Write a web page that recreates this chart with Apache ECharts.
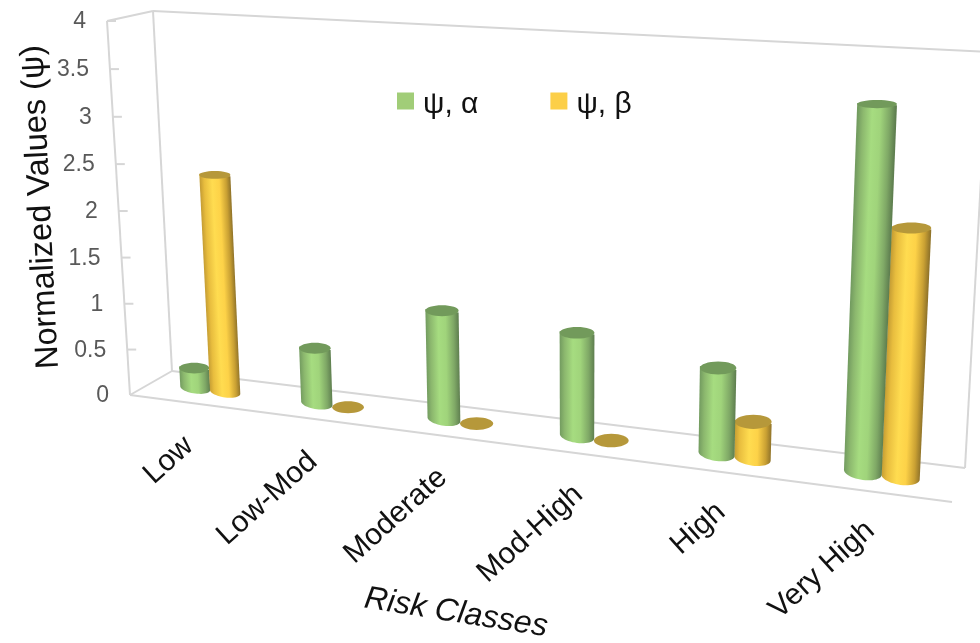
<!DOCTYPE html>
<html>
<head>
<meta charset="utf-8">
<title>Risk Classes</title>
<script src="https://cdn.jsdelivr.net/npm/echarts@6/dist/echarts.min.js"></script>
<style>
  html, body { margin: 0; padding: 0; background: #fff; }
  #chart { width: 980px; height: 643px; }
</style>
</head>
<body>
<div id="chart"></div>
<script>
const categories = ['Low', 'Low-Mod', 'Moderate', 'Mod-High', 'High', 'Very High']
const alphaValues = [0.22, 0.59, 1.13, 1.05, 0.85, 3.48]
const betaValues = [2.33, 0, 0, 0, 0.36, 2.36]
const yTicks = [0, 0.5, 1, 1.5, 2, 2.5, 3, 3.5, 4]

const FONT = '"Liberation Sans", Arial, sans-serif'
const GRID = { left: 151, top: 20, width: 807, height: 380 }

// the picture is a tilted 3D box, so flat grid pixels get warped onto it
const FLOOR_Y0 = 382.5
const FLOOR_SLOPE = 0.126
const H_LEFT = 372
const H_GROW = 60 / 807
const U_WARP = 1.15
const V_WARP = 1.033
const VANISH_X = 577
const LEAN = 0.000135

const warpU = (u) => u / (u + U_WARP * (1 - u))
const warpV = (v) => v / (v + V_WARP * (1 - v))

const project = (u, v) => {
  const x = GRID.left + GRID.width * warpU(u)
  const h = (H_LEFT + (x - GRID.left) * H_GROW) * warpV(v)
  const floorY = FLOOR_Y0 + FLOOR_SLOPE * (x - GRID.left)
  return [x + (x - VANISH_X) * LEAN * h, floorY - h]
}

const toUnit = (pt) => [
  (pt[0] - GRID.left) / GRID.width,
  (GRID.top + GRID.height - pt[1]) / GRID.height,
]

// ellipses open up towards the bottom of the picture
const flatness = (y) => 0.21 + (y - 103) * 0.00055

const GREEN_STOPS = [
  { offset: 0, color: '#739c60' },
  { offset: 0.14, color: '#8cb86e' },
  { offset: 0.38, color: '#a6dc80' },
  { offset: 0.6, color: '#a0d47b' },
  { offset: 0.84, color: '#7fa866' },
  { offset: 1, color: '#5f7f50' },
]
const YELLOW_STOPS = [
  { offset: 0, color: '#c69e34' },
  { offset: 0.14, color: '#e8bd3e' },
  { offset: 0.4, color: '#ffdc50' },
  { offset: 0.63, color: '#fdd248' },
  { offset: 0.86, color: '#c9a033' },
  { offset: 1, color: '#92752a' },
]

const makeCylinder = (offsetRatio, stops, topColor, frontFrom) => (params, api) => {
  const idx = api.value(0)
  const band = api.size([1, 0])[0] / GRID.width
  const [uC, vTop] = toUnit(api.coord([idx, api.value(1)]))
  const u = uC + band * offsetRatio
  const r = band * 0.126

  const baseL = project(u - r, 0)
  const baseR = project(u + r, 0)
  const topL = project(u - r, vTop)
  const topR = project(u + r, vTop)

  const baseC = [(baseL[0] + baseR[0]) / 2, (baseL[1] + baseR[1]) / 2]
  const topC = [(topL[0] + topR[0]) / 2, (topL[1] + topR[1]) / 2]
  const topRx = (topR[0] - topL[0]) / 2
  const baseRx = (baseR[0] - baseL[0]) / 2
  const topRy = topRx * flatness(topC[1])
  const baseRy = baseRx * flatness(baseC[1])

  const z2 = frontFrom(idx) ? 10 : 5
  const children = []

  if (api.value(1) > 0) {
    const pts = [topL, topR, baseR]
    for (let k = 1; k < 24; k++) {
      const a = (Math.PI * k) / 24
      pts.push([
        baseC[0] + baseRx * Math.cos(a),
        baseC[1] + (baseR[1] - baseC[1]) * Math.cos(a) + baseRy * Math.sin(a),
      ])
    }
    pts.push(baseL)

    // highlight bands run along the leaning axis of the bar
    const ax = topC[0] - baseC[0]
    const ay = topC[1] - baseC[1]
    const len = Math.hypot(ax, ay) || 1
    const px = (-ay / len) * baseRx
    const py = (ax / len) * baseRx
    children.push({
      type: 'polygon',
      z2,
      shape: { points: pts },
      style: {
        fill: {
          type: 'linear',
          global: true,
          x: baseC[0] - px,
          y: baseC[1] - py,
          x2: baseC[0] + px,
          y2: baseC[1] + py,
          colorStops: stops,
        },
      },
    })
  }

  children.push({
    type: 'ellipse',
    z2: z2 + 1,
    shape: { cx: topC[0], cy: topC[1], rx: topRx, ry: topRy },
    style: { fill: topColor },
  })

  return { type: 'group', children }
}

const WALL = {
  frontBottomL: [130, 395],
  frontTopL: [107, 21],
  backBottomL: [172, 371],
  backTopL: [153, 11],
  backBottomR: [965, 468],
  backTopR: [988, 52],
  frontBottomR: [952, 502],
}

const wallLine = (a, b) => ({
  type: 'line',
  shape: { x1: a[0], y1: a[1], x2: b[0], y2: b[1] },
  style: { stroke: '#d6d6d6', lineWidth: 2 },
})

const textEl = (text, x, y, size, fill, rotation, align, extra) => ({
  type: 'text',
  x,
  y,
  rotation,
  z2: 20,
  style: Object.assign({
    text,
    fontFamily: FONT,
    fontSize: size,
    fill,
    align,
    verticalAlign: 'middle',
  }, extra || {}),
})

const renderFrame = (params, api) => {
  const children = [
    wallLine(WALL.frontTopL, WALL.frontBottomL),
    wallLine(WALL.backTopL, WALL.backBottomL),
    wallLine(WALL.frontTopL, WALL.backTopL),
    wallLine(WALL.frontBottomL, WALL.backBottomL),
    wallLine(WALL.backTopL, WALL.backTopR),
    wallLine(WALL.backBottomL, WALL.backBottomR),
    wallLine(WALL.backBottomR, WALL.backTopR),
    wallLine(WALL.frontBottomL, WALL.frontBottomR),
  ]

  yTicks.forEach((tick) => {
    const v = toUnit(api.coord([0, tick]))[1]
    const t = warpV(v)
    const x = WALL.frontBottomL[0] + (WALL.frontTopL[0] - WALL.frontBottomL[0]) * t
    const y = WALL.frontBottomL[1] + (WALL.frontTopL[1] - WALL.frontBottomL[1]) * t
    if (tick > 0) children.push(wallLine([x, y], [x + 9, y]))
    children.push(textEl(String(tick), x - 21, y + 1, 23, '#595959', 0, 'right'))
  })

  categories.forEach((name, i) => {
    const u = toUnit(api.coord([i, 0]))[0]
    const p = project(u, 0)
    const t = warpU(u)
    children.push(textEl(name, p[0] - 22 + 12 * t, p[1] + 52, 30, '#111', (42 * Math.PI) / 180, 'right'))
  })

  children.push(textEl('Normalized Values (ψ)', 41, 207, 32.5, '#111', (92.8 * Math.PI) / 180, 'center'))
  children.push(textEl('Risk Classes', 456, 613, 32, '#111', (-9 * Math.PI) / 180, 'center', { fontStyle: 'italic' }))

  return { type: 'group', children }
}

const chart = echarts.init(document.getElementById('chart'))

chart.setOption({
  animation: false,
  backgroundColor: '#fff',
  grid: GRID,
  legend: {
    left: 392,
    top: 85,
    data: ['ψ, α', 'ψ, β'],
    // square sits in the top of a taller box, the reference has it above the text centre
    icon: 'path://M0,0H17V17H0ZM0,25L17,25',
    itemWidth: 17,
    itemHeight: 25,
    itemGap: 72,
    selectedMode: false,
    textStyle: { fontFamily: FONT, fontSize: 30, color: '#111', padding: [0, 0, 0, 4] },
  },
  xAxis: { type: 'category', data: categories, show: false },
  yAxis: { type: 'value', min: 0, max: 4, interval: 0.5, show: false },
  series: [
    {
      type: 'custom',
      name: 'frame',
      silent: true,
      clip: false,
      z: 1,
      data: [[0, 0]],
      renderItem: renderFrame,
    },
    {
      type: 'custom',
      name: 'ψ, α',
      clip: false,
      z: 2,
      itemStyle: { color: '#a1cd78' },
      data: alphaValues.map((v, i) => [i, v]),
      renderItem: makeCylinder(-0.125, GREEN_STOPS, '#729a5b', (i) => i > 0),
    },
    {
      type: 'custom',
      name: 'ψ, β',
      clip: false,
      z: 2,
      itemStyle: { color: '#fccf48' },
      data: betaValues.map((v, i) => [i, v]),
      renderItem: makeCylinder(0.125, YELLOW_STOPS, '#b6983a', (i) => i === 0),
    },
  ],
})
</script>
</body>
</html>
